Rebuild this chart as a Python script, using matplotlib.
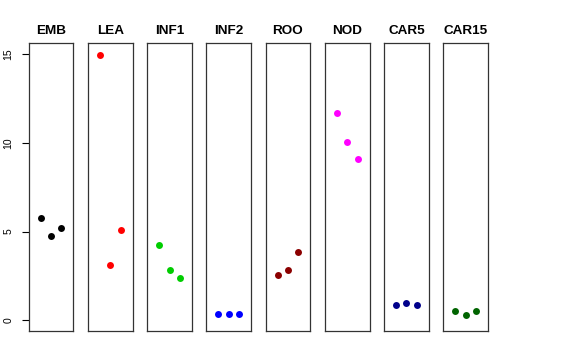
import numpy as np
import matplotlib
matplotlib.use("Agg")
import matplotlib.pyplot as plt

plt.rcParams['font.family'] = ['Liberation Sans', 'DejaVu Sans']

# panel names and colours
samples = ['EMB', 'LEA', 'INF1', 'INF2', 'ROO', 'NOD', 'CAR5', 'CAR15']
colors = ['black', 'red', '#00CD00', 'blue', '#8B0000', 'magenta', '#00008B', '#006400']

# three replicates per panel
rep_x = [1, 2, 3]
values = {
    'EMB': [5.77, 4.74, 5.19],
    'LEA': [14.96, 3.13, 5.10],
    'INF1': [4.23, 2.85, 2.38],
    'INF2': [0.37, 0.37, 0.37],
    'ROO': [2.55, 2.85, 3.86],
    'NOD': [11.65, 10.02, 9.08],
    'CAR5': [0.86, 0.97, 0.86],
    'CAR15': [0.54, 0.28, 0.51],
}
yticks = [0, 5, 10, 15]

W, H = 576, 360
fig = plt.figure(figsize=(W / 100, H / 100), dpi=100)

left0, step, pw = 28.7, 59.23, 44.7
top, bottom = 43.3, 331.0

for i, name in enumerate(samples):
    ax = fig.add_axes([(left0 + i * step) / W, 1 - bottom / H,
                       pw / W, (bottom - top) / H])
    ax.plot(rep_x, values[name], 'o', color=colors[i], ms=5, mec='none')
    ax.set_xlim(-0.16, 4.16)
    ax.set_ylim(-0.6, 15.6)
    ax.set_xticks([])
    for s in ax.spines.values():
        s.set_linewidth(0.9)
        s.set_color('#333333')
    ax.set_title(name, fontsize=9.7, fontweight='bold', pad=7)
    if i == 0:
        ax.set_yticks(yticks)
        ax.set_yticklabels([str(t) for t in yticks], rotation=90, va='center',
                           fontsize=7.5)
        ax.tick_params(axis='y', length=5, width=0.8, pad=6)
    else:
        ax.set_yticks([])

fig.savefig('out.png', dpi=100)
